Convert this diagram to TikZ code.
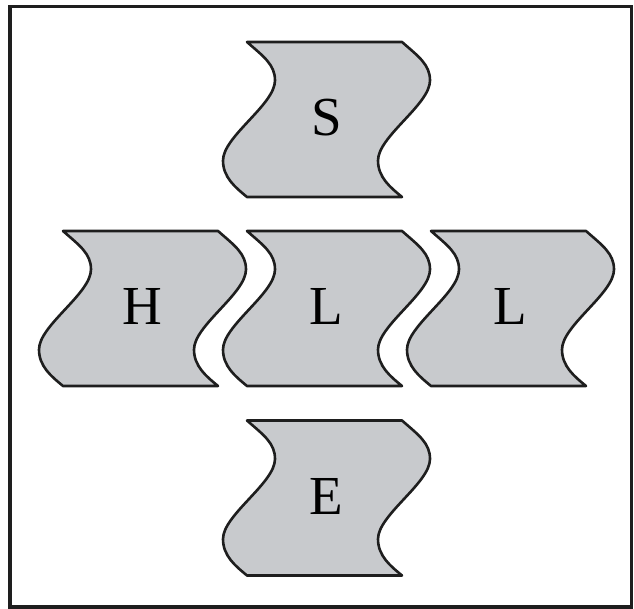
\documentclass[tikz,border=0pt]{standalone}
\usepackage{fontspec}
\setmainfont{Liberation Serif}
\usetikzlibrary{positioning}
\definecolor{tilegray}{RGB}{200,202,205}
\definecolor{edgeblack}{RGB}{30,30,30}

% one wavy tile, centred on (0,0), y runs downwards
\newcommand{\tilepath}{(-77.5,-77.5) -- (77.5,-77.5)
  .. controls (94,-63) and (105.5,-55) .. (105.5,-39)
  .. controls (105.5,-15) and (53.5,17) .. (53.5,41)
  .. controls (53.5,58) and (66,68) .. (77.5,77.5)
  -- (-77.5,77.5)
  .. controls (-89,68) and (-101.5,58) .. (-101.5,41)
  .. controls (-101.5,17) and (-49.5,-15) .. (-49.5,-39)
  .. controls (-49.5,-55) and (-61,-63) .. cycle}

\begin{document}
\begin{tikzpicture}[
  x=1pt, y=-1pt,
  tile/.style={fill=tilegray, draw=edgeblack, line width=2.6pt, line join=round},
  letter/.style={font=\fontsize{55}{62}\selectfont, inner sep=0pt},
  frame/.style={draw=edgeblack, line width=3.5pt}
]
\useasboundingbox (0,0) rectangle (634,609);
\draw[frame] (10,6.5) rectangle (631.5,607);

\foreach \nm/\px/\py/\txt in {tileS/324.5/119.5/S, tileH/140.5/308.5/H,
    tileL/324.5/308.5/L, tileLL/508.5/308.5/L, tileE/324.5/498/E} {
  \draw[tile, shift={(\px,\py)}] \tilepath;
  \node[letter] (\nm) at (\px+2,\py-2) {\txt};
}
\end{tikzpicture}
\end{document}
